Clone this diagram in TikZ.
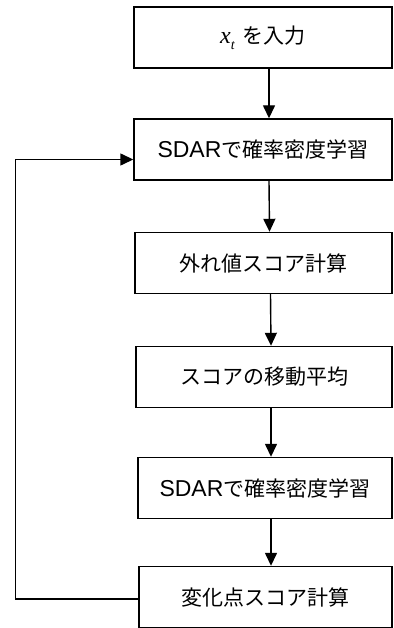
\documentclass[tikz,border=0pt]{standalone}
\usepackage{fontspec}
\setmainfont{Liberation Sans}
\newfontfamily\cjk{Noto Sans CJK JP}
\newfontfamily\tms{Liberation Serif}
\usetikzlibrary{arrows.meta}
\begin{document}
\begin{tikzpicture}[x=1pt,y=-1pt,
  box/.style={draw=black,line width=1.4pt,minimum height=61pt,inner sep=0pt,font=\fontsize{21}{25}\selectfont},
  arr/.style={line width=1.4pt,-{Triangle[width=12pt,length=13pt]}}]
\useasboundingbox (0,0) rectangle (393,628);
\node[box,minimum width=258pt] (b1) at (263,37.5) {\raisebox{-3pt}{{\fontsize{24}{24}\selectfont\tms\itshape x}\raisebox{-0.3em}{\fontsize{14}{14}\selectfont\tms\itshape t}\hspace{8pt}{\cjk を入力}}};
\node[box,minimum width=258pt] (b2) at (263,149.5) {{\fontsize{23}{25}\selectfont SDAR}{\cjk で確率密度学習}};
\node[box,minimum width=257pt] (b3) at (263.5,263) {\cjk 外れ値スコア計算};
\node[box,minimum width=256pt] (b4) at (264,377) {\cjk スコアの移動平均};
\node[box,minimum width=254pt] (b5) at (265,488) {{\fontsize{23}{25}\selectfont SDAR}{\cjk で確率密度学習}};
\node[box,minimum width=253pt] (b6) at (265.5,597) {\cjk 変化点スコア計算};
\draw[arr] ([xshift=6pt]b1.south) -- ([xshift=6pt]b2.north);
\draw[arr] ([xshift=6pt]b2.south) -- ([xshift=6pt]b3.north);
\draw[arr] ([xshift=7pt]b3.south) -- ([xshift=7pt]b4.north);
\draw[arr] ([xshift=7pt]b4.south) -- ([xshift=6pt]b5.north);
\draw[arr] ([xshift=6pt]b5.south) -- ([xshift=5.5pt]b6.north);
\draw[arr] ([yshift=-2pt]b6.west) -- ++(-123,0) |- ([yshift=-10pt]b2.west);
\end{tikzpicture}
\end{document}
